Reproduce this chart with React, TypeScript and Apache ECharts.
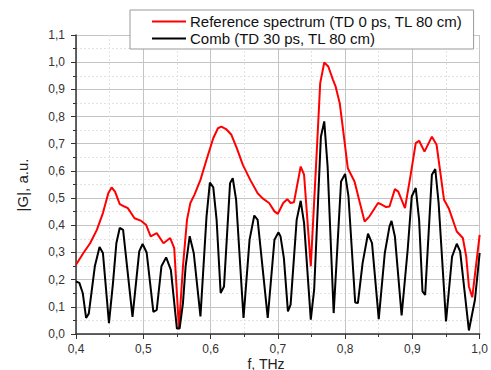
import React, { useEffect, useRef } from "react";
import * as echarts from "echarts";

// Reference spectrum (TD 0 ps, TL 80 cm)
const refFreq = [
  0.4, 0.411, 0.421, 0.431, 0.44, 0.448, 0.453, 0.458, 0.465, 0.472, 0.477, 0.487, 0.497, 0.504,
  0.511, 0.52, 0.53, 0.54, 0.546, 0.553, 0.559, 0.565, 0.57, 0.576, 0.585, 0.594, 0.604, 0.611,
  0.616, 0.623, 0.631, 0.639, 0.648, 0.659, 0.67, 0.677, 0.687, 0.695, 0.7, 0.708, 0.714, 0.719,
  0.724, 0.734, 0.739, 0.749, 0.758, 0.763, 0.769, 0.775, 0.782, 0.786, 0.792, 0.797, 0.804,
  0.814, 0.822, 0.829, 0.836, 0.849, 0.853, 0.861, 0.866, 0.874, 0.879, 0.889, 0.897, 0.905,
  0.91, 0.918, 0.929, 0.936, 0.947, 0.954, 0.966, 0.975, 0.98, 0.984, 0.989, 1.0,
];
const refValues = [
  0.255, 0.298, 0.334, 0.383, 0.445, 0.518, 0.539, 0.524, 0.478, 0.469, 0.463, 0.426, 0.416, 0.402,
  0.359, 0.371, 0.334, 0.353, 0.316, 0.022, 0.249, 0.42, 0.482, 0.512, 0.567, 0.641, 0.72, 0.757,
  0.763, 0.754, 0.733, 0.684, 0.622, 0.567, 0.518, 0.5, 0.482, 0.451, 0.442, 0.482, 0.496, 0.482,
  0.485, 0.616, 0.586, 0.249, 0.678, 0.923, 0.999, 0.984, 0.935, 0.91, 0.849, 0.751, 0.61,
  0.561, 0.482, 0.414, 0.432, 0.482, 0.478, 0.467, 0.469, 0.533, 0.524, 0.463, 0.579, 0.702,
  0.711, 0.671, 0.726, 0.696, 0.494, 0.463, 0.377, 0.353, 0.285, 0.175, 0.135, 0.365,
];

// Comb (TD 30 ps, TL 80 cm)
const combFreq = [
  0.4, 0.405, 0.41, 0.415, 0.419, 0.428, 0.435, 0.44, 0.449, 0.455, 0.46, 0.465, 0.47, 0.484,
  0.494, 0.499, 0.505, 0.515, 0.52, 0.527, 0.534, 0.541, 0.55, 0.554, 0.559, 0.563, 0.569, 0.575,
  0.585, 0.594, 0.599, 0.604, 0.609, 0.615, 0.62, 0.629, 0.633, 0.638, 0.649, 0.658, 0.665, 0.67,
  0.685, 0.695, 0.701, 0.704, 0.709, 0.715, 0.719, 0.728, 0.734, 0.739, 0.749, 0.754, 0.764,
  0.769, 0.774, 0.783, 0.794, 0.8, 0.805, 0.815, 0.819, 0.826, 0.834, 0.84, 0.85, 0.859, 0.866,
  0.869, 0.874, 0.884, 0.893, 0.899, 0.905, 0.91, 0.915, 0.919, 0.929, 0.934, 0.939, 0.95, 0.959,
  0.966, 0.971, 0.984, 0.993, 1.0,
];
const combValues = [
  0.193, 0.188, 0.151, 0.059, 0.075, 0.249, 0.32, 0.298, 0.04, 0.188, 0.334, 0.39, 0.383, 0.063,
  0.304, 0.331, 0.3, 0.081, 0.089, 0.249, 0.282, 0.236, 0.02, 0.02, 0.114, 0.25, 0.36, 0.298,
  0.065, 0.432, 0.557, 0.54, 0.42, 0.151, 0.175, 0.555, 0.573, 0.494, 0.059, 0.347, 0.436, 0.42,
  0.059, 0.347, 0.374, 0.359, 0.279, 0.083, 0.108, 0.42, 0.49, 0.408, 0.053, 0.163, 0.726,
  0.782, 0.616, 0.077, 0.561, 0.589, 0.506, 0.116, 0.114, 0.261, 0.369, 0.334, 0.055, 0.298, 0.396,
  0.416, 0.359, 0.068, 0.31, 0.506, 0.537, 0.42, 0.157, 0.144, 0.586, 0.607, 0.482, 0.046, 0.285,
  0.332, 0.304, 0.013, 0.126, 0.298,
];

const seriesNames = ["Reference spectrum (TD 0 ps, TL 80 cm)", "Comb (TD 30 ps, TL 80 cm)"];
const xTitle = "f, THz";
const yTitle = "|G|, a.u.";

const FONT = "Arial, 'Liberation Sans', Helvetica, sans-serif";
const fmt = (v: number) => v.toFixed(1).replace(".", ",");

export default function App() {
  const ref = useRef<HTMLDivElement>(null);
  useEffect(() => {
    if (!ref.current) return;
    const chart = echarts.init(ref.current, undefined, { renderer: "svg" });
    const refData = refFreq.map((f, i) => [f, refValues[i]]);
    const combData = combFreq.map((f, i) => [f, combValues[i]]);
    const axisCommon = {
      axisLine: { show: true, onZero: false, lineStyle: { color: "#333", width: 1.5 } },
      axisTick: { show: true, inside: false, length: 5, lineStyle: { color: "#333", width: 1 } },
      minorTick: { show: true, splitNumber: 2, length: 3, lineStyle: { color: "#333", width: 1 } },
      splitLine: { show: true, lineStyle: { color: "#c4c4c4", width: 1 } },
      minorSplitLine: { show: true, lineStyle: { color: "#e2e2e2", width: 1, type: [2, 2] } },
      axisLabel: {
        color: "#333",
        fontSize: 12,
        lineHeight: 12,
        fontFamily: FONT,
        formatter: (v: number) => fmt(v),
      },
    };
    chart.setOption({
      animation: false,
      backgroundColor: "#fff",
      grid: { left: 76, right: 6, top: 35, bottom: 36, containLabel: false },
      legend: {
        show: true,
        orient: "vertical",
        left: 130,
        top: 10,
        padding: [4, 11, 3, 22],
        itemGap: 2,
        itemWidth: 34,
        itemHeight: 2,
        icon: "rect",
        backgroundColor: "#fff",
        borderColor: "#999",
        borderWidth: 1,
        borderRadius: 0,
        textStyle: {
          fontSize: 15,
          lineHeight: 14,
          fontFamily: FONT,
          color: "#111",
          padding: [0, 0, 0, -1],
        },
        data: seriesNames,
      },
      xAxis: {
        type: "value",
        min: 0.4,
        max: 1.0,
        interval: 0.1,
        ...axisCommon,
        axisLabel: { ...axisCommon.axisLabel, margin: 9 },
      },
      yAxis: {
        type: "value",
        min: 0,
        max: 1.1,
        interval: 0.1,
        ...axisCommon,
        axisLabel: { ...axisCommon.axisLabel, margin: 11 },
      },
      graphic: [
        {
          type: "text",
          x: 266,
          y: 363.5,
          style: {
            text: xTitle,
            fontSize: 14,
            lineHeight: 12,
            fontFamily: FONT,
            fill: "#222",
            align: "center",
            verticalAlign: "middle",
          },
        },
        {
          type: "text",
          x: 22,
          y: 185,
          rotation: Math.PI / 2,
          style: {
            text: yTitle,
            fontSize: 15,
            fontFamily: FONT,
            fill: "#222",
            align: "center",
            verticalAlign: "middle",
          },
        },
      ],
      series: [
        {
          name: seriesNames[0],
          type: "line",
          data: refData,
          symbol: "none",
          color: "#ff0000",
          lineStyle: { color: "#ff0000", width: 2 },
          z: 2,
        },
        {
          name: seriesNames[1],
          type: "line",
          data: combData,
          symbol: "none",
          color: "#000000",
          lineStyle: { color: "#000000", width: 2 },
          z: 3,
        },
      ],
    });
    return () => chart.dispose();
  }, []);
  return (
    <div
      ref={ref}
      style={{ position: "absolute", left: 0, top: 0, width: 491, height: 370 }}
    />
  );
}
